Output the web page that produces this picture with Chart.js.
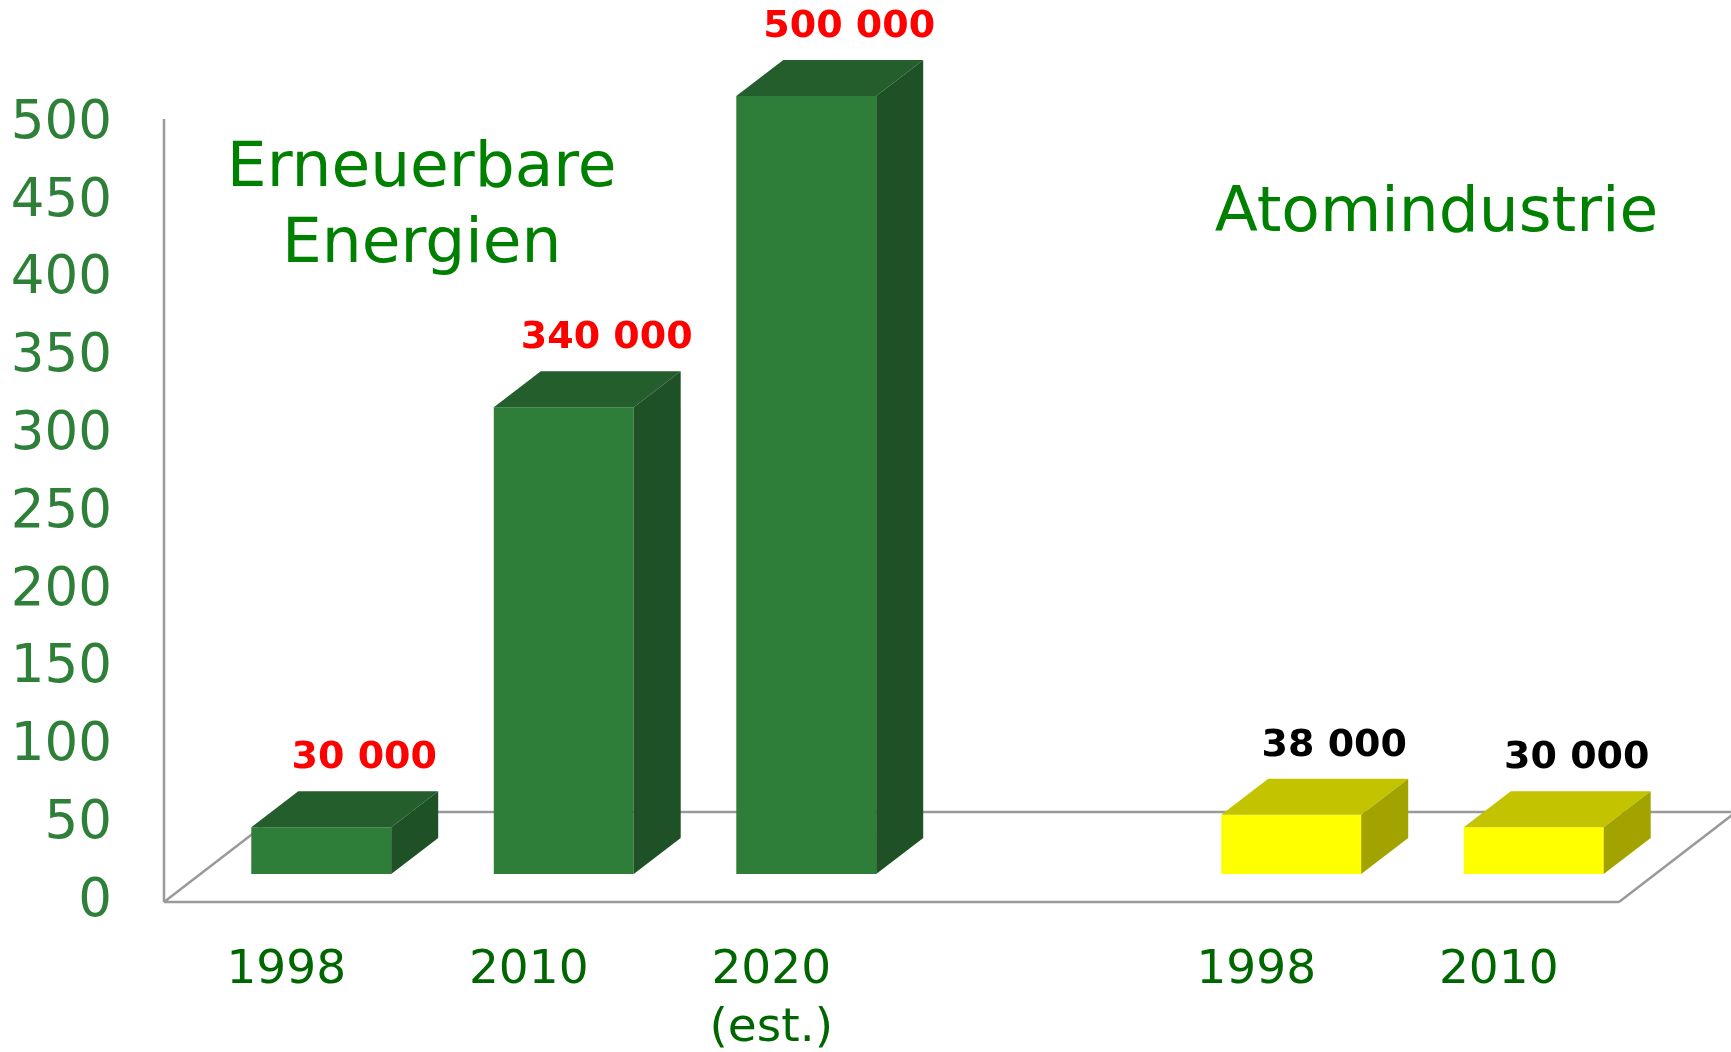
<!DOCTYPE html>
<html>
<head>
<meta charset="utf-8">
<script src="https://cdn.jsdelivr.net/npm/chart.js@4/dist/chart.umd.min.js"></script>
<style>
  html, body { margin: 0; padding: 0; background: #ffffff; }
  #wrap { width: 1731px; height: 1052px; }
</style>
</head>
<body>
<div id="wrap"><canvas id="c" width="1731" height="1052"></canvas></div>
<script>
// ---- data ----
const categories = ['1998', '2010', ['2020', '(est.)'], '', '1998', '2010'];
const values = [30, 300, 500, null, 38, 30];            // thousands of jobs (bar heights)
const valueLabels = ['30 000', '340 000', '500 000', '', '38 000', '30 000'];
const sector = ['renew', 'renew', 'renew', '', 'nuclear', 'nuclear'];
const groupTitles = [['Erneuerbare', 'Energien'], ['Atomindustrie']];
const yMin = 0, yMax = 500, yStep = 50;

// ---- styles ----
const FONT = '"DejaVu Sans", Verdana, sans-serif';
const palette = {
  renew:   { front: '#2E7E3A', top: '#235E2C', side: '#1E5126', label: '#FF0000' },
  nuclear: { front: '#FFFF00', top: '#C3C300', side: '#A3A300', label: '#000000' },
  '':      { front: '#ffffff', top: '#ffffff', side: '#ffffff', label: '#000000' }
};
const DEPTH_X = 47, DEPTH_Y = 36;   // bar depth projection
const FLOOR_FRONT = { dx: -36, dy: 28 };
const FLOOR_BACK = { dx: 81, dy: -62 };

const threeD = {
  id: 'threeD',
  beforeDatasetsDraw(chart) {
    const { ctx, chartArea: a, scales: { y } } = chart;
    const y0 = y.getPixelForValue(yMin);
    const yT = y.getPixelForValue(yMax);
    ctx.save();
    ctx.strokeStyle = '#9a9a9a';
    ctx.lineWidth = 2.5;
    ctx.beginPath();
    // front floor edge
    ctx.moveTo(a.left + FLOOR_FRONT.dx, y0 + FLOOR_FRONT.dy);
    ctx.lineTo(a.right + FLOOR_FRONT.dx, y0 + FLOOR_FRONT.dy);
    // back floor edge
    ctx.moveTo(a.left + FLOOR_BACK.dx, y0 + FLOOR_BACK.dy);
    ctx.lineTo(a.right + FLOOR_BACK.dx, y0 + FLOOR_BACK.dy);
    // side edges
    ctx.moveTo(a.left + FLOOR_FRONT.dx, y0 + FLOOR_FRONT.dy);
    ctx.lineTo(a.left + FLOOR_BACK.dx, y0 + FLOOR_BACK.dy);
    ctx.moveTo(a.right + FLOOR_FRONT.dx, y0 + FLOOR_FRONT.dy);
    ctx.lineTo(a.right + FLOOR_BACK.dx, y0 + FLOOR_BACK.dy);
    // value axis line
    ctx.moveTo(a.left + FLOOR_FRONT.dx, yT + 23);
    ctx.lineTo(a.left + FLOOR_FRONT.dx, y0 + FLOOR_FRONT.dy);
    ctx.stroke();
    ctx.restore();
  },
  afterDatasetsDraw(chart) {
    const { ctx } = chart;
    const meta = chart.getDatasetMeta(0);
    ctx.save();
    meta.data.forEach((bar, i) => {
      if (values[i] == null) return;
      const p = palette[sector[i]];
      const { x, y, base, width } = bar.getProps(['x', 'y', 'base', 'width'], true);
      const l = x - width / 2, r = x + width / 2;
      // top face
      ctx.fillStyle = p.top;
      ctx.beginPath();
      ctx.moveTo(l, y); ctx.lineTo(r, y);
      ctx.lineTo(r + DEPTH_X, y - DEPTH_Y); ctx.lineTo(l + DEPTH_X, y - DEPTH_Y);
      ctx.closePath(); ctx.fill();
      // side face
      ctx.fillStyle = p.side;
      ctx.beginPath();
      ctx.moveTo(r, y); ctx.lineTo(r + DEPTH_X, y - DEPTH_Y);
      ctx.lineTo(r + DEPTH_X, base - DEPTH_Y); ctx.lineTo(r, base);
      ctx.closePath(); ctx.fill();
      // value label
      ctx.fillStyle = p.label;
      ctx.font = 'bold 38px ' + FONT;
      ctx.textAlign = 'center';
      ctx.textBaseline = 'middle';
      ctx.fillText(valueLabels[i], x + DEPTH_X - 4, y - DEPTH_Y - 33);
    });
    // group titles
    ctx.fillStyle = '#008000';
    ctx.font = '63px ' + FONT;
    ctx.textAlign = 'center';
    ctx.textBaseline = 'alphabetic';
    const xs = chart.scales.x;
    const c1 = (xs.getPixelForValue(0) + xs.getPixelForValue(2)) / 2;
    groupTitles[0].forEach((t, k) => ctx.fillText(t, c1 - 142, 186 + k * 76));
    const c2 = (xs.getPixelForValue(4) + xs.getPixelForValue(5)) / 2;
    ctx.fillText(groupTitles[1][0], c2 + 24, 231);
    ctx.restore();
  }
};

new Chart(document.getElementById('c'), {
  type: 'bar',
  data: {
    labels: categories,
    datasets: [{
      data: values,
      backgroundColor: sector.map(s => palette[s].front),
      borderWidth: 0,
      barPercentage: 0.577,
      categoryPercentage: 1.0
    }]
  },
  options: {
    responsive: false,
    animation: false,
    devicePixelRatio: 1,
    layout: { padding: { top: 96, right: 76, left: 0, bottom: 0 } },
    plugins: { legend: { display: false }, tooltip: { enabled: false } },
    scales: {
      x: {
        grid: { display: false, drawTicks: false },
        border: { display: false },
        ticks: {
          color: '#006600',
          font: { family: FONT, size: 47, lineHeight: 1.25 },
          padding: 67,
          labelOffset: -35,
          maxRotation: 0,
          autoSkip: false
        },
        afterFit(s) { s.height = 178; s.paddingLeft = 0; s.paddingRight = 0; }
      },
      y: {
        min: yMin, max: yMax,
        grid: { display: false, drawTicks: false },
        border: { display: false },
        ticks: {
          stepSize: yStep,
          color: '#2E7F38',
          font: { family: FONT, size: 53 },
          padding: 88,
          labelOffset: 28
        },
        afterFit(s) { s.width = 200; s.paddingTop = 0; s.paddingBottom = 0; }
      }
    }
  },
  plugins: [threeD]
});
</script>
</body>
</html>
